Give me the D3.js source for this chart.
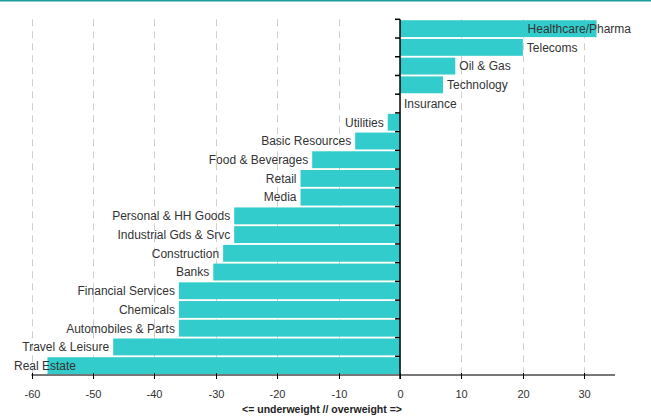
<!DOCTYPE html>
<html>
<head>
<meta charset="utf-8">
<script src="https://cdn.jsdelivr.net/npm/d3@7"></script>
<style>
  html, body { margin: 0; padding: 0; background: #fff; }
  svg { display: block; font-family: "Liberation Sans", Arial, sans-serif; }
</style>
</head>
<body>
<svg id="chart" width="651" height="418"></svg>
<script>
// Sector positioning: underweight (negative) to overweight (positive)
const sectors = [
  "Healthcare/Pharma", "Telecoms", "Oil & Gas", "Technology", "Insurance",
  "Utilities", "Basic Resources", "Food & Beverages", "Retail", "Media",
  "Personal & HH Goods", "Industrial Gds & Srvc", "Construction", "Banks",
  "Financial Services", "Chemicals", "Automobiles & Parts", "Travel & Leisure",
  "Real Estate"
];
const weights = [
  32, 20, 9, 7, 0,
  -2, -7.3, -14.3, -16.2, -16.2,
  -27, -27, -28.8, -30.4,
  -36, -36, -36, -46.7,
  -57.4
];
const xTicks = [-60, -50, -40, -30, -20, -10, 0, 10, 20, 30];
const xDomain = [-60, 35];
const axisTitle = "<= underweight // overweight =>";

const W = 651, H = 418;
const svg = d3.select("#chart");

const x = d3.scaleLinear().domain(xDomain).range([31.5, 615]);
const y = d3.scaleBand().domain(sectors).range([19.3, 375])
  .paddingInner(0.1).paddingOuter(0.05);

const data = sectors.map((s, i) => ({ name: s, value: weights[i] }));

// header rule
svg.append("line")
  .attr("x1", 0).attr("x2", W).attr("y1", 0.75).attr("y2", 0.75)
  .attr("stroke", "#1a9ba0").attr("stroke-width", 1.5);

// dashed vertical gridlines
const yTop = y.range()[0], yBot = y.range()[1];
svg.append("g").selectAll("line")
  .data(xTicks.filter(t => t !== 0))
  .join("line")
  .attr("x1", d => Math.round(x(d)) + 0.5).attr("x2", d => Math.round(x(d)) + 0.5)
  .attr("y1", yTop).attr("y2", yBot)
  .attr("stroke", "#cfcfcf").attr("stroke-width", 1)
  .attr("stroke-dasharray", "7,5");

// bars
svg.append("g").selectAll("rect")
  .data(data)
  .join("rect")
  .attr("x", d => x(Math.min(0, d.value)))
  .attr("width", d => Math.abs(x(d.value) - x(0)))
  .attr("y", d => y(d.name))
  .attr("height", y.bandwidth())
  .attr("fill", "#33cccc");

// x axis
const xAxis = svg.append("g").attr("transform", `translate(0,${yBot})`);
xAxis.append("line")
  .attr("x1", x(xDomain[0])).attr("x2", x(xDomain[1]))
  .attr("y1", 0).attr("y2", 0)
  .attr("stroke", "#777").attr("stroke-width", 2);
const xt = xAxis.selectAll("g.tick").data(xTicks).join("g")
  .attr("class", "tick")
  .attr("transform", d => `translate(${Math.round(x(d)) + 0.5},0)`);
xt.append("line").attr("y1", -2).attr("y2", 4)
  .attr("stroke", "#000").attr("stroke-width", 1);
xt.append("text")
  .attr("y", 23).attr("text-anchor", "middle")
  .attr("font-size", 11).attr("fill", "#333")
  .text(d => d);

svg.append("text")
  .attr("x", x(0) - 78).attr("y", 413)
  .attr("text-anchor", "middle")
  .attr("font-size", 10.5).attr("font-weight", "bold").attr("fill", "#222")
  .text(axisTitle);

// y axis at zero with ticks on band boundaries
const x0 = x(0);
svg.append("line")
  .attr("x1", x0).attr("x2", x0).attr("y1", yTop).attr("y2", yBot + 4)
  .attr("stroke", "#000").attr("stroke-width", 1.5);
const boundaries = sectors.map(s => y(s) - y.step() * y.paddingInner() / 2);
svg.append("g").selectAll("line")
  .data(boundaries)
  .join("line")
  .attr("x1", x0 - 5).attr("x2", x0)
  .attr("y1", d => d).attr("y2", d => d)
  .attr("stroke", "#000").attr("stroke-width", 1.5);

// category labels next to each bar, kept inside the plot edges
const leftLimit = 14, rightLimit = 631;
svg.append("g").selectAll("text")
  .data(data)
  .join("text")
  .attr("font-size", 12).attr("fill", "#333")
  .attr("y", d => y(d.name) + y.bandwidth() / 2)
  .attr("dy", "0.36em")
  .text(d => d.name)
  .each(function (d) {
    const t = d3.select(this);
    const w = this.getComputedTextLength();
    if (d.value >= 0) {
      let px = x(d.value) + 4;
      if (px + w > rightLimit) px = rightLimit - w;
      t.attr("x", px).attr("text-anchor", "start");
    } else {
      let px = x(d.value) - 4;
      if (px - w < leftLimit) px = leftLimit + w;
      t.attr("x", px).attr("text-anchor", "end");
    }
  });
</script>
</body>
</html>
